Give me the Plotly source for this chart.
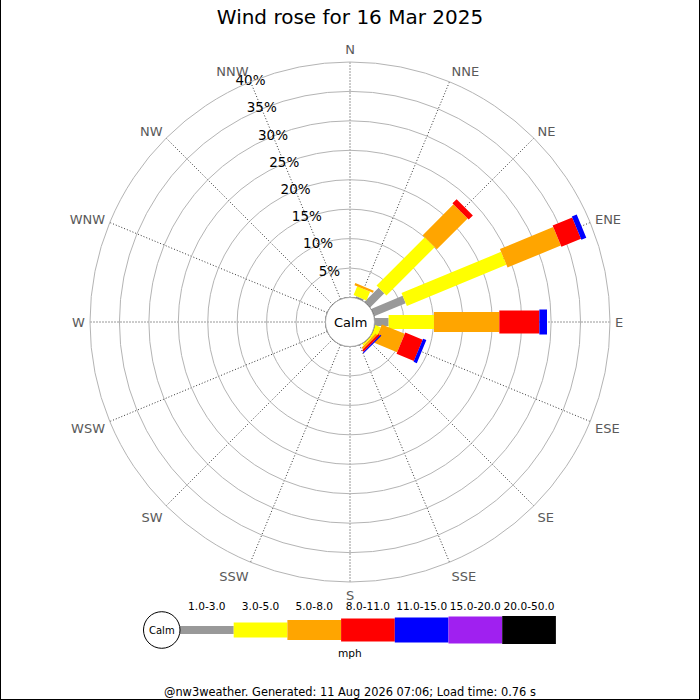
import math
import plotly.graph_objects as go

# compass points, clockwise from north
directions = ['N', 'NNE', 'NE', 'ENE', 'E', 'ESE', 'SE', 'SSE',
              'S', 'SSW', 'SW', 'WSW', 'W', 'WNW', 'NW', 'NNW']
dir_angles = [i * 22.5 for i in range(16)]

speed_bins = ['1.0-3.0', '3.0-5.0', '5.0-8.0', '8.0-11.0', '11.0-15.0', '15.0-20.0', '20.0-50.0']
bin_colors = ['#999999', '#ffff00', '#ffa500', '#ff0000', '#0000ff', '#a020f0', '#000000']

# % of the day per direction for each speed bin (mph)
pct_1_3 = [0, 0.3, 3.4, 5.8, 2.4, 0, 0, 0, 0, 0, 0, 0, 0, 0, 0, 0]
pct_3_5 = [0, 1.6, 11.6, 18.3, 7.7, 1.0, 0.3, 0, 0, 0, 0, 0, 0, 0, 0, 0]
pct_5_8 = [0, 0.4, 7.4, 9.8, 11.1, 4.2, 0.4, 0, 0, 0, 0, 0, 0, 0, 0, 0]
pct_8_11 = [0, 0, 1.0, 3.6, 6.8, 3.2, 0.35, 0, 0, 0, 0, 0, 0, 0, 0, 0]
pct_11_15 = [0, 0, 0, 0.9, 1.3, 0.6, 0.2, 0, 0, 0, 0, 0, 0, 0, 0, 0]
pct_15_20 = [0] * 16
pct_20_50 = [0] * 16
bins = [pct_1_3, pct_3_5, pct_5_8, pct_8_11, pct_11_15, pct_15_20, pct_20_50]

ring_pcts = [5, 10, 15, 20, 25, 30, 35, 40]

# geometry (pixels)
W = H = 700
CX, CY = 350, 322
R_PX = 260.0
HOLE_PX = 24.5
R_MAX = 40
PX_PER_PCT = (R_PX - HOLE_PX) / R_MAX
bar_thick = [8, 14, 20, 23, 25, 27, 28]
key_thick = [8, 15, 20, 23, 25, 27, 28]


def rect_polygon(angle, p0, p1, thick):
    # constant-width bar from p0% to p1% along a direction, as polar points
    d0 = HOLE_PX + p0 * PX_PER_PCT
    d1 = HOLE_PX + p1 * PX_PER_PCT
    w = thick / 2.0
    rs, ts = [], []
    for d, s in [(d0, -1), (d1, -1), (d1, 1), (d0, 1), (d0, -1)]:
        rr = math.hypot(d, w)
        rs.append((rr - HOLE_PX) / PX_PER_PCT)
        ts.append(angle + s * math.degrees(math.atan2(w, d)))
    return rs, ts


fig = go.Figure()

# rose bars, one trace per speed bin
cum = [0.0] * 16
for b, vals in enumerate(bins):
    rs, ts = [], []
    for i, v in enumerate(vals):
        if v > 0:
            r_, t_ = rect_polygon(dir_angles[i], cum[i], cum[i] + v, bar_thick[b])
            rs += r_ + [None]
            ts += t_ + [None]
        cum[i] += v
    if rs:
        fig.add_trace(go.Scatterpolar(
            r=rs, theta=ts, mode='lines', fill='toself',
            fillcolor=bin_colors[b], line=dict(width=0, color=bin_colors[b]),
            hoverinfo='skip', showlegend=False, cliponaxis=False
        ))

# calm circle
fig.add_trace(go.Scatterpolar(
    r=[0] * 181, theta=[i * 2 for i in range(181)], mode='lines',
    line=dict(color='black', width=1), hoverinfo='skip',
    showlegend=False, cliponaxis=False
))

# ring labels along NNW
fig.add_trace(go.Scatterpolar(
    r=ring_pcts, theta=[337.5] * len(ring_pcts), mode='text',
    text=[f'{p}%' for p in ring_pcts], textposition='middle center',
    textfont=dict(size=13.5, color='black', family='DejaVu Sans'),
    hoverinfo='skip', showlegend=False, cliponaxis=False
))

# speed key underneath
KEY_X0 = 180
KEY_W = 53.7
KEY_Y = 630
for b, name in enumerate(speed_bins):
    fig.add_trace(go.Bar(
        orientation='h', y=[0], x=[KEY_W], base=[KEY_X0 + b * KEY_W],
        width=[key_thick[b]], marker=dict(color=bin_colors[b], line_width=0),
        xaxis='x', yaxis='y', hoverinfo='skip', showlegend=False
    ))

fig.add_trace(go.Scatter(
    x=[KEY_X0 + (b + 0.5) * KEY_W for b in range(len(speed_bins))],
    y=[23] * len(speed_bins), mode='text', text=speed_bins,
    textfont=dict(size=10.6, color='black', family='DejaVu Sans'),
    hoverinfo='skip', showlegend=False, cliponaxis=False
))

key_mid = (KEY_X0 - 36 + KEY_X0 + len(speed_bins) * KEY_W) / 2

fig.update_layout(
    width=W, height=H,
    margin=dict(l=0, r=0, t=0, b=0),
    paper_bgcolor='white', plot_bgcolor='white',
    font=dict(family='DejaVu Sans', color='black'),
    barmode='overlay',
    title=dict(text='Wind rose for 16 Mar 2025', x=0.5, xanchor='center',
               y=1 - 17 / H, yanchor='middle', font=dict(size=20, color='black')),
    polar=dict(
        domain=dict(x=[(CX - R_PX) / W, (CX + R_PX) / W],
                    y=[(H - CY - R_PX) / H, (H - CY + R_PX) / H]),
        hole=HOLE_PX / R_PX,
        bgcolor='white',
        radialaxis=dict(range=[0, R_MAX], tickvals=ring_pcts, showticklabels=False,
                        ticks='', showline=False, gridcolor='#b4b4b4', gridwidth=1),
        angularaxis=dict(direction='clockwise', rotation=90, tickmode='array',
                         tickvals=dir_angles, ticktext=directions,
                         ticks='outside', ticklen=2, tickcolor='rgba(0,0,0,0)',
                         tickfont=dict(size=13, color='#5a5a5a'),
                         gridcolor='#333333', griddash='1px,2px', gridwidth=1,
                         showline=True, linecolor='#b4b4b4', linewidth=1),
    ),
    xaxis=dict(domain=[0, 1], range=[0, W], visible=False, fixedrange=True),
    yaxis=dict(domain=[(H - KEY_Y - 30) / H, (H - KEY_Y + 30) / H], range=[-30, 30],
               visible=False, fixedrange=True),
    shapes=[
        dict(type='circle', xref='x', yref='y', x0=KEY_X0 - 36.5, x1=KEY_X0,
             y0=-18.3, y1=18.3, line=dict(color='black', width=1), fillcolor='white'),
        dict(type='line', xref='paper', yref='paper', x0=0, x1=0, y0=0, y1=1,
             line=dict(color='black', width=2)),
        dict(type='line', xref='paper', yref='paper', x0=1, x1=1, y0=0, y1=1,
             line=dict(color='black', width=2)),
        dict(type='line', xref='paper', yref='paper', x0=0, x1=1, y0=0, y1=0,
             line=dict(color='black', width=2)),
    ],
    annotations=[
        dict(text='Calm', x=(CX) / W, y=(H - CY) / H, xref='paper', yref='paper',
             showarrow=False, font=dict(size=13, color='black')),
        dict(text='Calm', x=KEY_X0 - 18.2, y=0, xref='x', yref='y',
             showarrow=False, font=dict(size=10, color='black')),
        dict(text='mph', x=key_mid, y=-23, xref='x', yref='y',
             showarrow=False, font=dict(size=10.6, color='black')),
        dict(text='@nw3weather. Generated: 11 Aug 2026 07:06; Load time: 0.76 s',
             x=0.5, y=1 - 692 / H, xref='paper', yref='paper', yanchor='middle',
             showarrow=False, font=dict(size=11.4, color='black')),
    ],
)

# drop the browser's default page margin so the figure sits at the top-left
fig.write_html("out.html", config={'displayModeBar': False},
               post_script="document.body.style.margin='0';")
